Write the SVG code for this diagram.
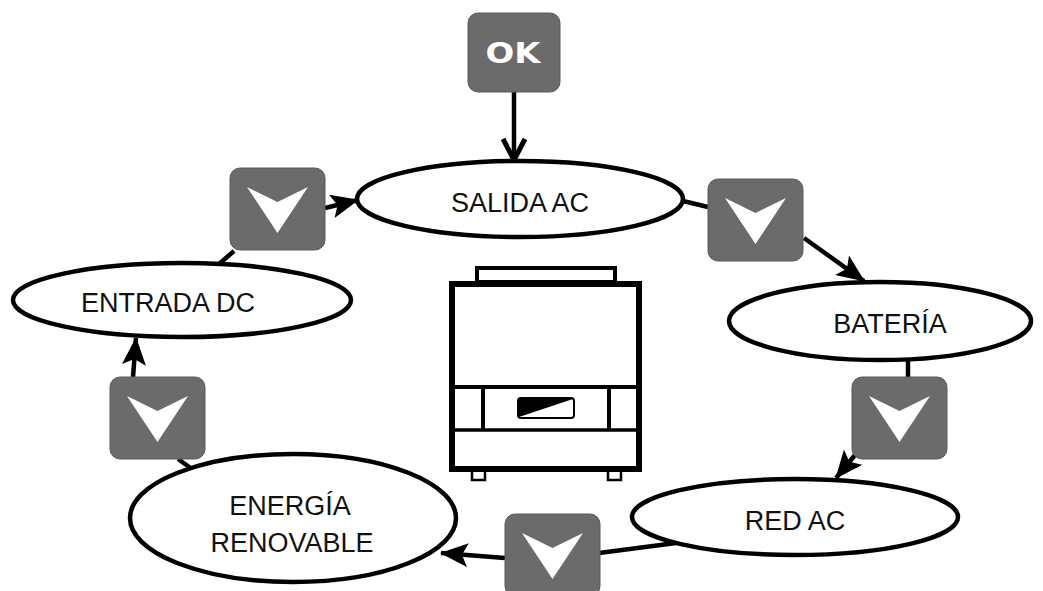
<svg xmlns="http://www.w3.org/2000/svg" xmlns:xlink="http://www.w3.org/1999/xlink" width="1043" height="591" viewBox="0 0 1043 591">
  <style>
    .state { fill: #ffffff; stroke: #000000; stroke-width: 4.5; }
    .label { font-family: "Liberation Sans", Arial, sans-serif; font-size: 27px; fill: #111111; text-anchor: middle; }
    .btn { fill: #6b6b6b; stroke: #5a5a5a; stroke-width: 1; }
    .chev { fill: #ffffff; }
    .wire { fill: none; stroke: #000000; stroke-width: 4.5; }
    .inv { fill: #ffffff; stroke: #000000; }
  </style>
  <defs>
    <marker id="head" viewBox="0 0 28 24" refX="27" refY="12" markerWidth="28" markerHeight="24" markerUnits="userSpaceOnUse" orient="auto">
      <path d="M0,0 L28,12 L0,24 L6,12 Z" fill="#000000"/>
    </marker>
    <marker id="openhead" viewBox="0 0 26 26" refX="23" refY="13" markerWidth="26" markerHeight="26" markerUnits="userSpaceOnUse" orient="auto">
      <path d="M2,2 L23,13 L2,24" fill="none" stroke="#000000" stroke-width="5" stroke-linejoin="miter"/>
    </marker>
    <!-- down-key button: grey rounded square with a white chevron -->
    <g id="downKey">
      <rect class="btn" x="0" y="0" width="95" height="82" rx="10"/>
      <path class="chev" d="M17,19 L47.5,34 L78,19 L47.5,65 Z"/>
    </g>
  </defs>

  <!-- connectors -->
  <g id="connectors">
    <line class="wire" x1="514" y1="92" x2="514" y2="160" marker-end="url(#openhead)"/>
    <line class="wire" x1="325" y1="208" x2="358" y2="200" marker-end="url(#head)"/>
    <line class="wire" x1="683" y1="201" x2="708" y2="207"/>
    <line class="wire" x1="804" y1="238" x2="864" y2="281" marker-end="url(#head)"/>
    <line class="wire" x1="908" y1="359" x2="908" y2="377"/>
    <line class="wire" x1="855" y1="455" x2="836" y2="478" marker-end="url(#head)"/>
    <line class="wire" x1="676" y1="543" x2="599" y2="553"/>
    <line class="wire" x1="505" y1="558" x2="441" y2="553" marker-end="url(#head)"/>
    <line class="wire" x1="178" y1="459" x2="192" y2="469"/>
    <line class="wire" x1="133" y1="377" x2="136" y2="338" marker-end="url(#head)"/>
    <line class="wire" x1="219" y1="264" x2="234" y2="251"/>
  </g>

  <!-- OK key -->
  <g id="ok-key">
    <rect class="btn" x="468" y="13" width="92" height="79" rx="10"/>
    <text x="513" y="63" font-family="'DejaVu Sans', 'Liberation Sans', sans-serif" font-weight="bold" font-size="29" fill="#ffffff" text-anchor="middle" textLength="55" lengthAdjust="spacingAndGlyphs">OK</text>
  </g>

  <!-- menu states -->
  <g id="salida-ac">
    <ellipse class="state" cx="520" cy="199" rx="163" ry="38"/>
    <text class="label" x="520" y="212">SALIDA AC</text>
  </g>
  <g id="bateria">
    <ellipse class="state" cx="880" cy="321" rx="151" ry="39"/>
    <text class="label" x="890" y="333">BATERÍA</text>
  </g>
  <g id="red-ac">
    <ellipse class="state" cx="795" cy="517" rx="163" ry="38"/>
    <text class="label" x="795" y="530">RED AC</text>
  </g>
  <g id="energia-renovable">
    <ellipse class="state" cx="293" cy="518" rx="163" ry="64"/>
    <text class="label" x="290" y="515">ENERGÍA</text>
    <text class="label" x="292" y="552">RENOVABLE</text>
  </g>
  <g id="entrada-dc">
    <ellipse class="state" cx="182" cy="300" rx="169" ry="37"/>
    <text class="label" x="168" y="312">ENTRADA DC</text>
  </g>

  <!-- down keys between states -->
  <g id="key-top-left"><use xlink:href="#downKey" href="#downKey" x="230" y="168"/></g>
  <g id="key-top-right"><use xlink:href="#downKey" href="#downKey" x="708" y="179"/></g>
  <g id="key-right"><use xlink:href="#downKey" href="#downKey" x="852" y="377"/></g>
  <g id="key-bottom"><use xlink:href="#downKey" href="#downKey" x="505" y="514"/></g>
  <g id="key-left"><use xlink:href="#downKey" href="#downKey" x="110" y="377"/></g>

  <!-- inverter unit -->
  <g id="inverter">
    <rect class="inv" x="477" y="268" width="138" height="14" stroke-width="4"/>
    <rect class="inv" x="472" y="470" width="13" height="10" stroke-width="2.5"/>
    <rect class="inv" x="608" y="470" width="13" height="10" stroke-width="2.5"/>
    <rect class="inv" x="452" y="284" width="187" height="185" stroke-width="6"/>
    <line x1="452" y1="387" x2="639" y2="387" stroke="#000" stroke-width="4"/>
    <line x1="452" y1="430" x2="639" y2="430" stroke="#000" stroke-width="3.5"/>
    <line x1="483" y1="387" x2="483" y2="430" stroke="#000" stroke-width="4"/>
    <line x1="609" y1="387" x2="609" y2="430" stroke="#000" stroke-width="4"/>
    <rect x="518" y="398" width="56" height="20" rx="3" fill="#ffffff" stroke="#000" stroke-width="2"/>
    <path d="M519,399 L573,399 L519,417 Z" fill="#000000"/>
  </g>
</svg>
